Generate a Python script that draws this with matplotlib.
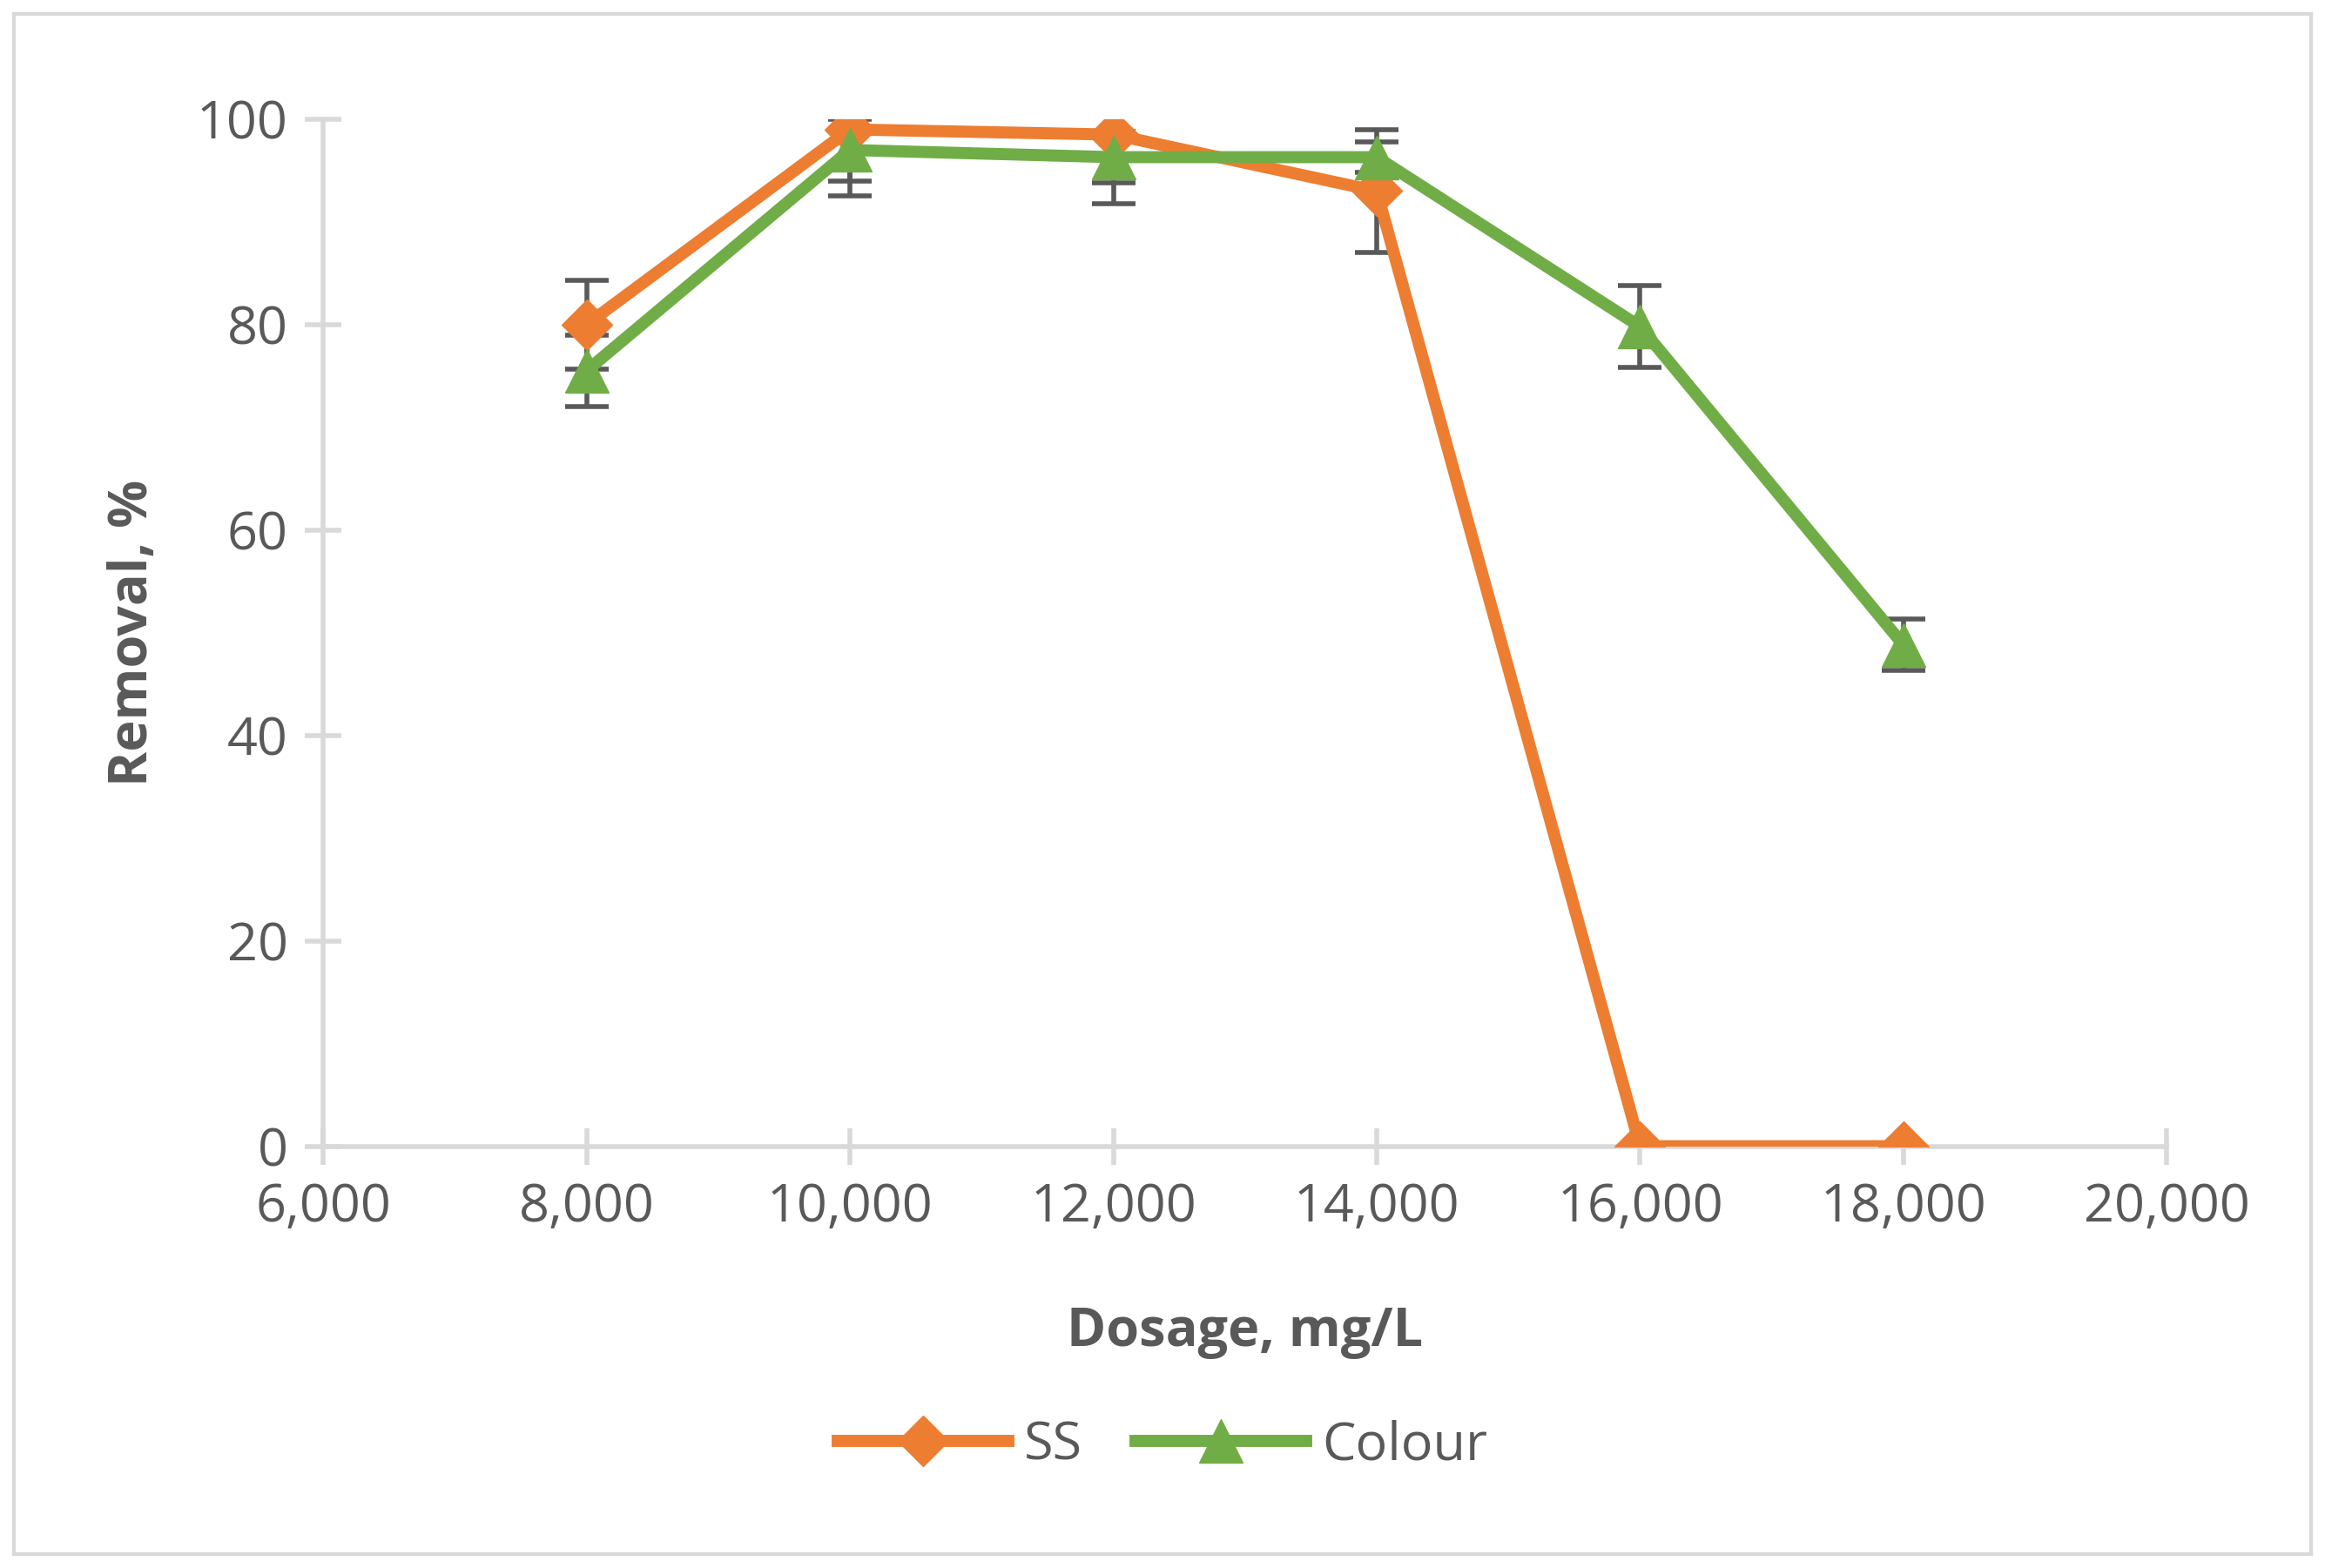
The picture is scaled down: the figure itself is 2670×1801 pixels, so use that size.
import matplotlib.pyplot as plt
from matplotlib.ticker import FuncFormatter
from matplotlib.lines import Line2D

dosage = [8000, 10000, 12000, 14000, 16000, 18000]
ss = [80, 99, 98.5, 93, 0, 0]
ss_err = [4.3, 6.5, 6.7, 6, 0, 0]
colour = [75.5, 97, 96.3, 96.3, 79.8, 48.8]
colour_err = [3.5, 3, 2.5, 1.5, 4, 2.5]

orange = '#ED7D31'
green = '#70AD47'

plt.rcParams['font.family'] = ['Open Sans', 'DejaVu Sans']
fig = plt.figure(figsize=(26.7, 18.01), dpi=100)
ax = fig.add_axes([0.139, 0.269, 0.793, 0.655])

# error bars only where nonzero
ss_idx = [i for i, e in enumerate(ss_err) if e > 0]
ax.errorbar([dosage[i] for i in ss_idx], [ss[i] for i in ss_idx], yerr=[ss_err[i] for i in ss_idx],
            fmt='none', ecolor='#595959', elinewidth=4, capsize=18, capthick=4, zorder=2)
ax.errorbar(dosage, colour, yerr=colour_err, fmt='none', ecolor='#595959',
            elinewidth=4, capsize=18, capthick=4, zorder=2)
ax.plot(dosage, ss, color=orange, lw=10, marker='D', ms=30, zorder=3)
ax.plot(dosage, colour, color=green, lw=10, marker='^', ms=36, zorder=4)

ax.set_xlim(6000, 20000)
ax.set_ylim(0, 100)
ax.set_xticks(range(6000, 20001, 2000))
ax.set_yticks(range(0, 101, 20))
ax.xaxis.set_major_formatter(FuncFormatter(lambda v, p: f'{int(v):,}'))
for s in ['top', 'right']:
    ax.spines[s].set_visible(False)
for s in ['left', 'bottom']:
    ax.spines[s].set_color('#D9D9D9')
    ax.spines[s].set_linewidth(4)
ax.tick_params(direction='inout', length=30, width=4, color='#D9D9D9',
               labelsize=44, labelcolor='#595959', pad=14)
ax.set_xlabel('Dosage, mg/L', fontsize=44, fontweight='bold', color='#595959', labelpad=60)
ax.set_ylabel('Removal, %', fontsize=44, fontweight='bold', color='#595959', labelpad=30)

handles = [Line2D([], [], color=orange, lw=10, marker='D', ms=30),
           Line2D([], [], color=green, lw=10, marker='^', ms=36)]
fig.legend(handles, ['SS', 'Colour'], loc='center', bbox_to_anchor=(0.5, 0.078), ncol=2,
           frameon=False, fontsize=44, labelcolor='#595959', handlelength=3.2,
           columnspacing=1.0, handletextpad=0.3)
fig.patches.append(plt.Rectangle((0.006, 0.009), 0.988, 0.982, transform=fig.transFigure,
                                 fill=False, edgecolor='#D9D9D9', lw=3))
fig.savefig('out.png', dpi=100)
